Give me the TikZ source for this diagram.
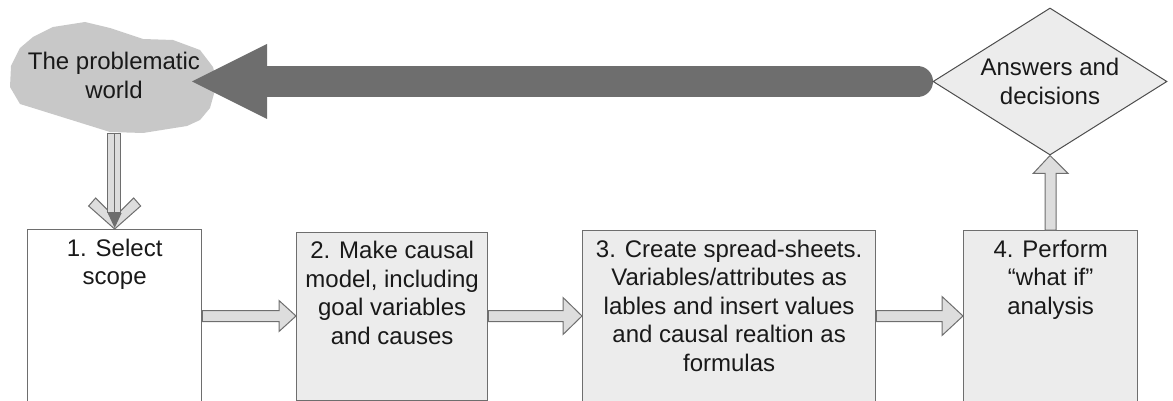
\documentclass[tikz,border=0pt]{standalone}
\usepackage{fontspec}
\setmainfont{Liberation Sans}
\usetikzlibrary{calc,shapes.geometric}

\definecolor{boxfill}{RGB}{236,236,236}
\definecolor{boxline}{RGB}{110,110,110}
\definecolor{arrowfill}{RGB}{221,221,221}
\definecolor{bigarrow}{RGB}{110,110,110}
\definecolor{cloudfill}{RGB}{200,200,200}
\definecolor{textcol}{RGB}{25,25,25}

\tikzset{
  stepbox/.style={rectangle, draw=boxline, line width=1.3pt, fill=boxfill,
    inner sep=0pt, anchor=north west},
  steptext/.style={anchor=north, inner sep=0pt, align=center, text=textcol,
    font=\fontsize{24}{28.5}\selectfont},
  blockarrow/.style={draw=boxline, line width=1pt, fill=arrowfill, line join=miter},
}

% horizontal block arrow: #1 start, #2 tip, #3 head length, #4 head half-width
\newcommand\hblockarrow[4]{%
  \filldraw[blockarrow] let \p1=(#1), \p2=(#2) in
    (\x1,\y1+5.5pt) -- (\x2-#3pt,\y1+5.5pt) -- (\x2-#3pt,\y1+#4pt) -- (\x2,\y1)
    -- (\x2-#3pt,\y1-#4pt) -- (\x2-#3pt,\y1-5.5pt) -- (\x1,\y1-5.5pt) -- cycle;}

\begin{document}
\begin{tikzpicture}[x=1pt,y=-1pt]
\useasboundingbox (0,0) rectangle (1173,401);
\clip (0,0) rectangle (1173,401);

% the problematic world
\fill[cloudfill] (20,48) -- (33,37) -- (53,27) -- (85,22) -- (110,28) -- (143,39)
  -- (173,40) -- (200,50) -- (213,67) -- (217,83) -- (210,108) -- (200,120)
  -- (187,126) -- (143,133) -- (110,132) -- (33,108) -- (20,104) -- (10,87)
  -- (11,66) -- cycle;
\node[steptext, anchor=center] (world) at (114,75.3) {The problematic\\world};
\coordinate (cloudbottom) at (114,134);

% process steps
\node[stepbox, fill=white, minimum width=174pt, minimum height=181pt] (b1) at (27,229) {};
\node[stepbox, minimum width=191pt, minimum height=168.3pt] (b2) at (296,231.7) {};
\node[stepbox, minimum width=293pt, minimum height=180pt] (b3) at (582,230) {};
\node[stepbox, minimum width=174pt, minimum height=180pt] (b4) at (963,230) {};

\node[steptext] (t1) at ($(b1.north)+(0,9.5)$) {1. Select\\scope};
\node[steptext] (t2) at ($(b2.north)+(0,9.5)$) {2. Make causal\\model, including\\goal variables\\and causes};
\node[steptext] (t3) at ($(b3.north)+(0,9.5)$) {3. Create spread-sheets.\\Variables/attributes as\\lables and insert values\\and causal realtion as\\formulas};
\node[steptext] (t4) at ($(b4.north)+(0,9.5)$) {4. Perform\\“what if”\\analysis};

% step-to-step arrows
\coordinate (row) at (0,316);
\hblockarrow{b1.east |- row}{b2.west |- row}{17}{15.5}
\hblockarrow{b2.east |- row}{b3.west |- row}{19}{18.5}
\hblockarrow{b3.east |- row}{b4.west |- row}{21}{19.5}

% answers and decisions
\coordinate (bigtip) at (192,81.5);
\draw[bigarrow, line width=31pt, line cap=round]
  ($(1050,81.5)+(-117,0)+(-15.5,0)$) -- ($(bigtip)+(74,0)$);
\fill[bigarrow] let \p1=(bigtip) in
  (\p1) -- (\x1+75pt,\y1+37.5pt) -- (\x1+75pt,\y1-37.5pt) -- cycle;
\node[shape=diamond, draw=boxline!70!black, line width=1pt, fill=boxfill,
  minimum width=234pt, minimum height=147pt, aspect=1.6, inner sep=0pt,
  align=center, text=textcol, font=\fontsize{24}{28.5}\selectfont]
  (dia) at (1050,81.5) {Answers and\\decisions};

% step 4 up to the diamond
\filldraw[blockarrow] let \p1=(b4.north), \p2=(dia.south) in
  (\x1-5.5pt,\y1) -- (\x1-5.5pt,\y2-18pt) -- (\x1-17.5pt,\y2-18pt) -- (\x2,\y2)
  -- (\x1+17.5pt,\y2-18pt) -- (\x1+5.5pt,\y2-18pt) -- (\x1+5.5pt,\y1) -- cycle;

% world down to step 1
\filldraw[blockarrow] (b1.north) -- ++(-26,-23) -- ++(7,-8) -- ++(19,19)
  -- ++(19,-19) -- ++(7,8) -- cycle;
\filldraw[blockarrow] let \p1=(cloudbottom), \p2=(b1.north) in
  (\x1-6.5pt,\y1) rectangle (\x1+6.5pt,\y2+17pt);
\draw[boxline, line width=0.8pt] let \p1=(cloudbottom), \p2=(b1.north) in
  (\p1) -- (\x1,\y2+17pt);
\fill[bigarrow] (b1.north) ++(0,-1) -- ++(-7,-15) -- ++(14,0) -- cycle;
\end{tikzpicture}
\end{document}
